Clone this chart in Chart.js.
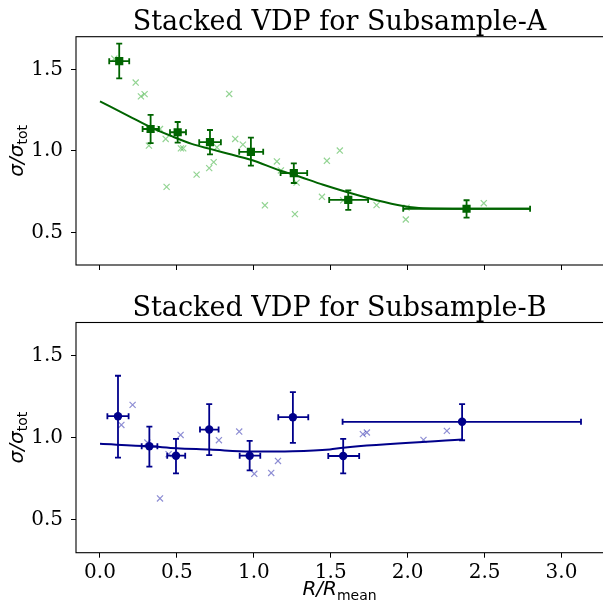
<!DOCTYPE html>
<html>
<head>
<meta charset="utf-8">
<script src="https://cdn.jsdelivr.net/npm/chart.js@4.4.0/dist/chart.umd.min.js"></script>
<style>
  body { margin: 0; background: #fff; }
  #boxA { position: absolute; left: 0; top: 0; width: 603px; height: 285px; }
  #boxB { position: absolute; left: 0; top: 285px; width: 603px; height: 323px; }
</style>
</head>
<body>
<div id="boxA"><canvas id="chartA"></canvas></div>
<div id="boxB"><canvas id="chartB"></canvas></div>
<script>
const xTicks = [0, 0.5, 1.0, 1.5, 2.0, 2.5, 3.0];
const yTicks = [0.5, 1.0, 1.5];

// Subsample-A binned points
const aX   = [0.125, 0.329, 0.505, 0.715, 0.981, 1.26, 1.614, 2.383];
const aY   = [1.55, 1.134, 1.114, 1.053, 0.994, 0.864, 0.699, 0.645];
const aXLo = [0.06, 0.277, 0.455, 0.645, 0.905, 1.174, 1.49, 1.971];
const aXHi = [0.19, 0.383, 0.559, 0.786, 1.061, 1.347, 1.743, 2.796];
const aYLo = [1.445, 1.047, 1.05, 0.978, 0.909, 0.803, 0.638, 0.591];
const aYHi = [1.657, 1.221, 1.177, 1.128, 1.081, 0.923, 0.758, 0.697];
// Subsample-A individual galaxies
const aScatX = [0.093, 0.232, 0.266, 0.29, 0.318, 0.39, 0.427, 0.433, 0.526, 0.541, 0.628, 0.71, 0.739, 0.76, 0.84,
                0.879, 0.929, 1.072, 1.15, 1.176, 1.267, 1.278, 1.443, 1.475, 1.559, 1.581, 1.798, 1.988, 1.993, 2.495];
const aScatY = [1.565, 1.419, 1.334, 1.348, 1.032, 1.134, 1.073, 0.779, 1.015, 1.015, 0.854, 0.894, 0.931, 1.022, 1.349,
                1.073, 1.038, 0.666, 0.935, 0.88, 0.612, 0.805, 0.718, 0.939, 1.002, 0.697, 0.667, 0.579, 0.652, 0.679];
// Subsample-A fit
const aFitX = [0, 0.184, 0.331, 0.466, 0.596, 0.715, 0.834, 0.981, 1.18, 1.256, 1.451, 1.614, 1.798, 1.971, 2.1, 2.383, 2.796];
const aFitY = [1.303, 1.215, 1.144, 1.09, 1.043, 1.012, 0.982, 0.945, 0.876, 0.855, 0.792, 0.745, 0.697, 0.662, 0.648, 0.645, 0.645];

// Subsample-B binned points
const bX   = [0.117, 0.321, 0.494, 0.71, 0.973, 1.254, 1.581, 2.354];
const bY   = [1.13, 0.947, 0.89, 1.049, 0.89, 1.124, 0.888, 1.096];
const bXLo = [0.048, 0.271, 0.437, 0.65, 0.908, 1.159, 1.484, 1.577];
const bXHi = [0.186, 0.373, 0.554, 0.771, 1.042, 1.354, 1.685, 3.127];
const bYLo = [0.878, 0.823, 0.783, 0.893, 0.801, 0.968, 0.783, 0.984];
const bYHi = [1.376, 1.067, 0.992, 1.204, 0.98, 1.277, 0.992, 1.204];
// Subsample-B individual galaxies
const bScatX = [0.139, 0.212, 0.308, 0.39, 0.446, 0.524, 0.773, 0.905, 1.003, 1.113, 1.157, 1.709, 1.735, 2.103, 2.255];
const bScatY = [1.077, 1.199, 0.97, 0.63, 0.899, 1.016, 0.984, 1.037, 0.78, 0.785, 0.858, 1.021, 1.031, 0.986, 1.041];
// Subsample-B fit
const bFitX = [0, 0.321, 0.498, 0.715, 0.975, 1.254, 1.494, 1.581, 2.354];
const bFitY = [0.962, 0.947, 0.935, 0.927, 0.915, 0.917, 0.928, 0.939, 0.988];

function pts(xs, ys) {
  return xs.map((x, i) => ({ x: x, y: ys[i] }));
}

// frame, titles, axis labels and error bars
const decor = {
  id: 'decor',
  beforeDatasetDraw(chart, args, opts) {
    if (args.index !== 2) return;
    const ctx = chart.ctx, xs = chart.scales.x, ys = chart.scales.y;
    const e = opts.err;
    ctx.save();
    ctx.strokeStyle = opts.color;
    ctx.lineWidth = 1.8;
    const cap = 3;
    for (let i = 0; i < e.x.length; i++) {
      const px = xs.getPixelForValue(e.x[i]), py = ys.getPixelForValue(e.y[i]);
      const x0 = xs.getPixelForValue(e.xlo[i]), x1 = xs.getPixelForValue(e.xhi[i]);
      const y0 = ys.getPixelForValue(e.ylo[i]), y1 = ys.getPixelForValue(e.yhi[i]);
      ctx.beginPath();
      ctx.moveTo(x0, py); ctx.lineTo(x1, py);
      ctx.moveTo(x0, py - cap); ctx.lineTo(x0, py + cap);
      ctx.moveTo(x1, py - cap); ctx.lineTo(x1, py + cap);
      ctx.moveTo(px, y0); ctx.lineTo(px, y1);
      ctx.moveTo(px - cap, y0); ctx.lineTo(px + cap, y0);
      ctx.moveTo(px - cap, y1); ctx.lineTo(px + cap, y1);
      ctx.stroke();
    }
    ctx.restore();
  },
  afterDraw(chart, args, opts) {
    const ctx = chart.ctx, a = chart.chartArea;
    ctx.save();
    ctx.strokeStyle = '#000';
    ctx.lineWidth = 1.1;
    ctx.strokeRect(a.left, a.top, a.right - a.left + 2, a.bottom - a.top);

    const cx = (a.left + a.right) / 2;
    ctx.fillStyle = '#000';
    ctx.textAlign = 'center';
    ctx.textBaseline = 'alphabetic';
    ctx.font = '27px "DejaVu Serif"';
    ctx.fillText(opts.title, cx, a.top - 7);

    // y label: sigma / sigma_tot
    const cy = (a.top + a.bottom) / 2;
    ctx.save();
    ctx.translate(23, cy);
    ctx.rotate(-Math.PI / 2);
    ctx.textAlign = 'left';
    ctx.font = 'italic 20px "DejaVu Sans"';
    const main = '\u03c3/\u03c3';
    const w1 = ctx.measureText(main).width;
    ctx.font = '14px "DejaVu Sans"';
    const w2 = ctx.measureText('tot').width;
    const sx = -(w1 + w2) / 2;
    ctx.font = 'italic 20px "DejaVu Sans"';
    ctx.fillText(main, sx, 0);
    ctx.font = '14px "DejaVu Sans"';
    ctx.fillText('tot', sx + w1, 4);
    ctx.restore();

    if (opts.xlabel) {
      ctx.textAlign = 'left';
      ctx.font = 'italic 20px "DejaVu Sans"';
      const m = 'R/R';
      const v1 = ctx.measureText(m).width;
      ctx.font = '14px "DejaVu Sans"';
      const v2 = ctx.measureText('mean').width;
      const lx = cx - (v1 + v2) / 2;
      const ly = a.bottom + 42;
      ctx.font = 'italic 20px "DejaVu Sans"';
      ctx.fillText(m, lx, ly);
      ctx.font = '14px "DejaVu Sans"';
      ctx.fillText('mean', lx + v1, ly + 5);
    }
    ctx.restore();
  }
};

function makeChart(id, opt) {
  return new Chart(document.getElementById(id), {
    type: 'scatter',
    data: {
      datasets: [
        {
          data: pts(opt.scatX, opt.scatY),
          pointStyle: 'crossRot',
          radius: 4.3,
          borderWidth: 1.2,
          borderColor: opt.light,
          backgroundColor: opt.light,
          order: 2
        },
        {
          data: pts(opt.fitX, opt.fitY),
          showLine: true,
          pointRadius: 0,
          borderColor: opt.color,
          borderWidth: 2,
          cubicInterpolationMode: 'monotone',
          order: 1
        },
        {
          data: pts(opt.x, opt.y),
          pointStyle: opt.marker,
          radius: opt.marker === 'rect' ? 5.8 : 4.2,
          borderWidth: 0,
          backgroundColor: opt.color,
          borderColor: opt.color,
          order: 0
        }
      ]
    },
    options: {
      animation: false,
      responsive: true,
      maintainAspectRatio: false,
      layout: { autoPadding: false, padding: { top: opt.padTop, right: 0, left: 0, bottom: 0 } },
      plugins: {
        legend: { display: false },
        tooltip: { enabled: false },
        decor: {
          title: opt.title,
          xlabel: opt.xlabel,
          color: opt.color,
          err: { x: opt.x, y: opt.y, xlo: opt.xlo, xhi: opt.xhi, ylo: opt.ylo, yhi: opt.yhi }
        }
      },
      scales: {
        x: {
          type: 'linear',
          min: -0.156,
          max: 3.27,
          afterBuildTicks: s => { s.ticks = xTicks.map(v => ({ value: v })); },
          afterFit: s => { s.height = opt.xHeight; },
          border: { display: false },
          grid: { drawOnChartArea: false, drawTicks: true, tickLength: 5, color: '#000', lineWidth: 1 },
          ticks: {
            padding: 3,
            color: '#000',
            font: { family: 'DejaVu Serif', size: 20 },
            callback: v => opt.xlabel ? v.toFixed(1) : ''
          }
        },
        y: {
          type: 'linear',
          min: 0.3,
          max: 1.7,
          afterBuildTicks: s => { s.ticks = yTicks.map(v => ({ value: v })); },
          afterFit: s => { s.width = 76; },
          border: { display: false },
          grid: { drawOnChartArea: false, drawTicks: true, tickLength: 5, color: '#000', lineWidth: 1 },
          ticks: {
            padding: 8,
            color: '#000',
            font: { family: 'DejaVu Serif', size: 20 },
            callback: v => v.toFixed(1)
          }
        }
      }
    },
    plugins: [decor]
  });
}

makeChart('chartA', {
  title: 'Stacked VDP for Subsample-A', xlabel: false,
  color: '#006400', light: 'rgba(40,170,40,0.5)', marker: 'rect',
  padTop: 36.7, xHeight: 17.7,
  x: aX, y: aY, xlo: aXLo, xhi: aXHi, ylo: aYLo, yhi: aYHi,
  scatX: aScatX, scatY: aScatY, fitX: aFitX, fitY: aFitY
});

makeChart('chartB', {
  title: 'Stacked VDP for Subsample-B', xlabel: true,
  color: '#00008b', light: 'rgba(30,30,170,0.5)', marker: 'circle',
  padTop: 37.5, xHeight: 55.3,
  x: bX, y: bY, xlo: bXLo, xhi: bXHi, ylo: bYLo, yhi: bYHi,
  scatX: bScatX, scatY: bScatY, fitX: bFitX, fitY: bFitY
});
</script>
</body>
</html>
